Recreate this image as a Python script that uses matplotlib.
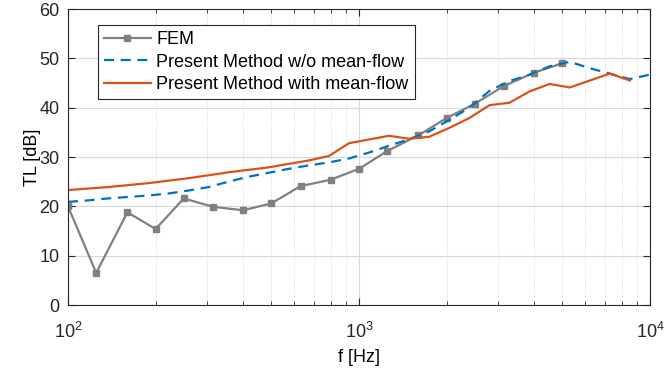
import matplotlib
matplotlib.use("Agg")
import matplotlib.pyplot as plt

plt.rcParams['font.family'] = ['Liberation Sans', 'DejaVu Sans']
plt.rcParams['font.size'] = 13
plt.rcParams['mathtext.fontset'] = 'custom'
plt.rcParams['mathtext.rm'] = 'Liberation Sans'

# FEM: one-third octave band centres
fem_f = [100, 125, 160, 200, 250, 315, 400, 500, 630, 800,
         1000, 1250, 1600, 2000, 2500, 3150, 4000, 5000]
fem_tl = [20.0, 6.5, 18.8, 15.4, 21.6, 19.9, 19.2, 20.6, 24.1, 25.4,
          27.6, 31.2, 34.4, 37.9, 40.8, 44.4, 47.1, 49.0]

# present method, log-spaced frequencies
pm_f = [100, 117, 137, 161, 189, 221, 259, 304, 356, 417,
        489, 573, 672, 788, 924, 1083, 1269, 1487, 1743, 2043,
        2395, 2807, 3290, 3857, 4520, 5298, 6210, 7279, 8532, 10000]
tl_noflow = [20.9, 21.2, 21.6, 21.9, 22.2, 22.6, 23.2, 23.9, 25.0, 26.0,
             26.8, 27.6, 28.3, 28.9, 29.7, 30.9, 32.3, 33.6, 35.2, 37.5,
             40.0, 43.4, 45.4, 46.7, 48.4, 49.3, 48.0, 46.9, 45.8, 46.7]
tl_flow = [23.3, 23.6, 23.9, 24.3, 24.7, 25.2, 25.7, 26.3, 26.9, 27.4,
           27.9, 28.6, 29.3, 30.2, 32.8, 33.55, 34.3, 33.7, 34.1, 35.9,
           37.9, 40.5, 41.0, 43.3, 44.8, 44.1, 45.5, 46.9, 45.5]

fig = plt.figure(figsize=(6.65, 3.79), dpi=100)
ax = fig.add_axes([68/665, 1-305/379, 582/665, 296/379])

ax.semilogx(fem_f, fem_tl, '-s', color=(0.5, 0.5, 0.5), lw=1.6,
            ms=4.5, mfc=(0.5, 0.5, 0.5), mec=(0.5, 0.5, 0.5), label='FEM')
ax.semilogx(pm_f, tl_noflow, '--', color=(0, 0.447, 0.741), lw=1.6,
            dashes=(4.5, 3), label='Present Method w/o mean-flow')
ax.semilogx(pm_f[:len(tl_flow)], tl_flow, '-', color=(0.85, 0.325, 0.098),
            lw=1.6, label='Present Method with mean-flow')

ax.set_xlim(100, 10000)
ax.set_ylim(0, 60)
ax.set_yticks(range(0, 61, 10))
ax.set_xlabel('f [Hz]', labelpad=5)
ax.set_ylabel('TL [dB]', labelpad=-1)

ax.grid(True, which='major', color='#d8d8d8', lw=0.8, ls='-')
ax.grid(True, which='minor', axis='x', color='#cccccc', lw=0.6, ls=':')
ax.set_axisbelow(True)
ax.tick_params(which='both', direction='in', top=True, right=True,
               colors=(0.15, 0.15, 0.15), labelcolor=(0.15, 0.15, 0.15))
ax.tick_params(which='major', length=5)
ax.tick_params(which='minor', length=3)
ax.tick_params(axis='x', which='major', pad=12)
ax.tick_params(axis='y', which='major', pad=6)
for s in ax.spines.values():
    s.set_color((0.15, 0.15, 0.15))
    s.set_linewidth(0.8)

leg = ax.legend(loc='upper left', bbox_to_anchor=(0.051, 0.946),
                borderaxespad=0, fancybox=False, framealpha=1,
                edgecolor=(0.15, 0.15, 0.15), handlelength=2.6,
                handletextpad=0.3, labelspacing=0.3, borderpad=0.35)
leg.get_frame().set_linewidth(0.8)

fig.savefig('out.png', dpi=100)
